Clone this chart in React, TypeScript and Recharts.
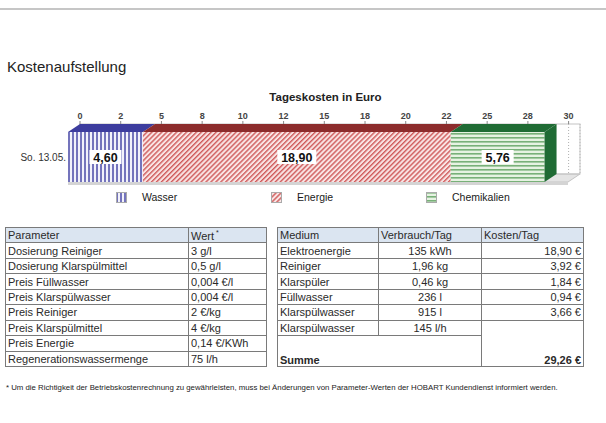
import React from "react";
import { Bar, BarChart, CartesianGrid, ReferenceArea, XAxis, YAxis } from "recharts";

// chart values
const categories = ["So. 13.05."];
const wasser = [4.6];
const energie = [18.9];
const chemikalien = [5.76];
const tickValues = [0, 2.5, 5, 7.5, 10, 12.5, 15, 17.5, 20, 22.5, 25, 27.5, 30];
const tickLabels = ["0", "2", "5", "8", "10", "12", "15", "18", "20", "22", "25", "28", "30"];
const axisMax = 30.7;

// table values
const paramNames = [
  "Dosierung Reiniger",
  "Dosierung Klarspülmittel",
  "Preis Füllwasser",
  "Preis Klarspülwasser",
  "Preis Reiniger",
  "Preis Klarspülmittel",
  "Preis Energie",
  "Regenerationswassermenge",
];
const paramValues = ["3 g/l", "0,5 g/l", "0,004 €/l", "0,004 €/l", "2 €/kg", "4 €/kg", "0,14 €/KWh", "75 l/h"];
const mediumNames = ["Elektroenergie", "Reiniger", "Klarspüler", "Füllwasser", "Klarspülwasser", "Klarspülwasser"];
const verbrauch = ["135 kWh", "1,96 kg", "0,46 kg", "236 l", "915 l", "145 l/h"];
const kosten = ["18,90 €", "3,92 €", "1,84 €", "0,94 €", "3,66 €"];
const summe = "29,26 €";

const data = categories.map((day, i) => ({
  day,
  wasser: wasser[i],
  energie: energie[i],
  chemikalien: chemikalien[i],
}));

const FONT = '"Liberation Sans", Arial, sans-serif';
const DX = 12;
const DY = 8;

const series = [
  { key: "wasser", name: "Wasser", fill: "url(#pWasser)", top: "#3d3d9e" },
  { key: "energie", name: "Energie", fill: "url(#pEnergie)", top: "#8c2c2c" },
  { key: "chemikalien", name: "Chemikalien", fill: "url(#pChem)", top: "#1f6b34" },
];

const fmt = (v: number) => v.toFixed(2).replace(".", ",");

function makeShape(key: string, top: string, fill: string, isLast: boolean) {
  return (p: any) => {
    const { x, y, width: w, height: h } = p;
    const v = p.payload ? p.payload[key] : 0;
    const fx = x - DX;
    const fy = y + DY;
    const label = fmt(v);
    const lw = label.length * 7 + 4;
    return (
      <g>
        <rect x={fx} y={fy} width={w} height={h} fill={fill} />
        <polygon points={`${fx},${fy} ${x},${y} ${x + w},${y} ${fx + w},${fy}`} fill={top} />
        {isLast && (
          <polygon
            points={`${fx + w},${fy} ${x + w},${y} ${x + w},${y + h} ${fx + w},${fy + h}`}
            fill={top}
          />
        )}
        <rect x={fx + w / 2 - lw / 2} y={fy + h / 2 - 7} width={lw} height={14} fill="#fff" />
        <text
          x={fx + w / 2}
          y={fy + h / 2 + 4.5}
          textAnchor="middle"
          fontFamily={FONT}
          fontSize={12.5}
          fontWeight="bold"
          fill="#111"
        >
          {label}
        </text>
      </g>
    );
  };
}

function Wall(p: any) {
  const { x, y, width: w, height: h } = p;
  return (
    <g>
      <polygon
        points={`${x},${y + h} ${x + w},${y + h} ${x + w - DX},${y + h + DY} ${x - DX},${y + h + DY}`}
        fill="#e4e4e4"
        stroke="#c4c4c4"
      />
      <rect x={x - DX} y={y + h + DY} width={w} height={3} fill="#d4d4d4" />
      <rect x={x} y={y} width={w} height={h} fill="none" stroke="#c4c4c4" />
    </g>
  );
}

function Patterns() {
  return (
    <defs>
      <pattern id="pWasser" patternUnits="userSpaceOnUse" width="4" height="4">
        <rect width="4" height="4" fill="#f2f2fb" />
        <rect x="0" width="2" height="4" fill="#7474bc" />
      </pattern>
      <pattern id="pEnergie" patternUnits="userSpaceOnUse" width="3.5" height="3.5" patternTransform="rotate(45)">
        <rect width="3.5" height="3.5" fill="#f9e4e4" />
        <rect width="1.4" height="3.5" fill="#cf5a5a" />
      </pattern>
      <pattern id="pChem" patternUnits="userSpaceOnUse" width="4" height="4">
        <rect width="4" height="4" fill="#e6f2e2" />
        <rect y="0" width="4" height="1.6" fill="#78b078" />
      </pattern>
    </defs>
  );
}

function YTick(p: any) {
  return (
    <text x={p.x - DX} y={p.y + DY + 3.5} textAnchor="end" fontFamily={FONT} fontSize={10} fill="#333">
      {p.payload.value}
    </text>
  );
}

const cell: React.CSSProperties = {
  border: "1px solid #7a7a7a",
  padding: "0 2px",
  whiteSpace: "nowrap",
  overflow: "hidden",
};

const tableStyle: React.CSSProperties = {
  position: "absolute",
  borderCollapse: "collapse",
  tableLayout: "fixed",
  fontFamily: FONT,
  fontSize: 11,
  color: "#2a2a2a",
  border: "1.5px solid #8a8a8a",
};

const headBg = "#dbe5f1";
const ROW = 15.45;

export default function App() {
  return (
    <div style={{ position: "absolute", left: 0, top: 0, width: 606, height: 423, background: "#fff", fontFamily: FONT }}>
      <div style={{ position: "absolute", left: 0, top: 8, width: 606, height: 2, background: "#c6c6c6" }} />
      <div style={{ position: "absolute", left: 7, top: 58, fontSize: 15, color: "#222" }}>Kostenaufstellung</div>
      <div
        style={{
          position: "absolute",
          left: 0,
          width: 651,
          top: 91,
          textAlign: "center",
          fontSize: 11.5,
          fontWeight: "bold",
          color: "#222",
        }}
      >
        Tageskosten in Euro
      </div>

      <div style={{ position: "absolute", left: 0, top: 85 }}>
        <BarChart
          width={606}
          height={125}
          data={data}
          layout="vertical"
          barCategoryGap={0}
          margin={{ top: 19, right: 26, bottom: 36, left: 0 }}
        >
          <Patterns />
          <CartesianGrid horizontal={false} stroke="#b0b0b0" strokeDasharray="1 2" />
          <XAxis
            type="number"
            orientation="top"
            domain={[0, axisMax]}
            ticks={tickValues}
            tickFormatter={(v: number) => tickLabels[tickValues.indexOf(v)]}
            height={20}
            axisLine={false}
            tickLine={{ stroke: "#888" }}
            tickSize={3}
            tickMargin={2}
            tick={{ fill: "#444", fontSize: 9, fontWeight: "bold", fontFamily: FONT }}
            interval={0}
          />
          <YAxis type="category" dataKey="day" width={80} axisLine={false} tickLine={false} tickSize={0} tickMargin={2} tick={<YTick />} />
          <ReferenceArea x1={0} x2={axisMax} shape={<Wall />} />
          {series.map((s, i) => (
            <Bar
              key={s.key}
              dataKey={s.key}
              name={s.name}
              stackId="a"
              fill={s.fill}
              isAnimationActive={false}
              shape={makeShape(s.key, s.top, s.fill, i === series.length - 1)}
            />
          ))}
        </BarChart>
      </div>

      {/* legend */}
      <div style={{ position: "absolute", left: 116, top: 191, display: "flex", fontSize: 10.5, color: "#1a1a1a" }}>
        {series.map((s) => (
          <div key={s.key} style={{ width: 155, display: "flex", alignItems: "center" }}>
            <svg width={11} height={11} style={{ marginRight: 15 }}>
              <Patterns />
              <rect x={0.5} y={0.5} width={10} height={10} fill={s.fill} stroke="#aaa" />
            </svg>
            <span>{s.name}</span>
          </div>
        ))}
      </div>

      {/* parameter table */}
      <table style={{ ...tableStyle, left: 5, top: 227, width: 261 }}>
        <colgroup>
          <col style={{ width: 183 }} />
          <col style={{ width: 78 }} />
        </colgroup>
        <tbody>
          <tr style={{ height: ROW, background: headBg }}>
            <td style={cell}>Parameter</td>
            <td style={cell}>
              Wert<sup style={{ fontSize: 7 }}> *</sup>
            </td>
          </tr>
          {paramNames.map((n, i) => (
            <tr key={n} style={{ height: ROW }}>
              <td style={cell}>{n}</td>
              <td style={cell}>{paramValues[i]}</td>
            </tr>
          ))}
        </tbody>
      </table>

      {/* cost table */}
      <table style={{ ...tableStyle, left: 277, top: 227, width: 306 }}>
        <colgroup>
          <col style={{ width: 101 }} />
          <col style={{ width: 103 }} />
          <col style={{ width: 102 }} />
        </colgroup>
        <tbody>
          <tr style={{ height: ROW, background: headBg }}>
            <td style={cell}>Medium</td>
            <td style={cell}>Verbrauch/Tag</td>
            <td style={cell}>Kosten/Tag</td>
          </tr>
          {mediumNames.map((n, i) => (
            <tr key={i} style={{ height: ROW }}>
              <td style={cell}>{n}</td>
              <td style={{ ...cell, textAlign: "center" }}>{verbrauch[i]}</td>
              {i < kosten.length ? (
                <td style={{ ...cell, textAlign: "right" }}>{kosten[i]}</td>
              ) : (
                <td
                  rowSpan={2}
                  style={{ ...cell, textAlign: "right", verticalAlign: "bottom", fontWeight: "bold" }}
                >
                  {summe}
                </td>
              )}
            </tr>
          ))}
          <tr style={{ height: 30.5 }}>
            <td colSpan={2} style={{ ...cell, verticalAlign: "bottom", fontWeight: "bold" }}>
              Summe
            </td>
          </tr>
        </tbody>
      </table>

      <div style={{ position: "absolute", left: 6, top: 383, fontSize: 7.8, color: "#222", whiteSpace: "nowrap" }}>
        * Um die Richtigkeit der Betriebskostenrechnung zu gewährleisten, muss bei Änderungen von Parameter-Werten der
        HOBART Kundendienst informiert werden.
      </div>
    </div>
  );
}
